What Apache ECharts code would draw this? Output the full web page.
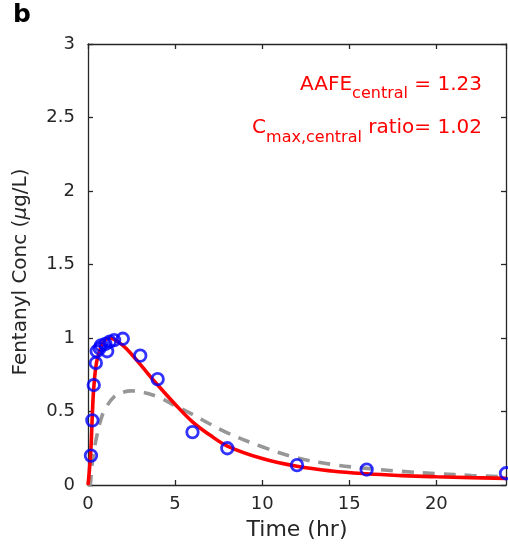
<!DOCTYPE html>
<html>
<head>
<meta charset="utf-8">
<script src="https://cdn.jsdelivr.net/npm/echarts@6/dist/echarts.min.js"></script>
<style>html,body{margin:0;padding:0;background:#fff}#c{width:508px;height:552px}</style>
</head>
<body>
<div id="c"></div>
<script>
// Observed concentrations (blue circles): [time hr, conc ug/L]
const obsTime = [0.17, 0.25, 0.33, 0.45, 0.5, 0.67, 0.75, 1.0, 1.1, 1.25, 1.5, 2, 3, 4, 6, 8, 12, 16, 24];
const obsConc = [0.20, 0.44, 0.68, 0.83, 0.91, 0.93, 0.95, 0.96, 0.91, 0.975, 0.985, 0.995, 0.88, 0.72, 0.36, 0.25, 0.135, 0.105, 0.08];
// Simulated central (red solid)
const redTime = [0, 0.08, 0.17, 0.25, 0.33, 0.5, 0.75, 1, 1.25, 1.5, 2, 2.5, 3, 4, 5, 6, 7, 8, 10, 12, 14, 16, 18, 20, 22, 24];
const redConc = [0, 0.1, 0.25, 0.48, 0.66, 0.84, 0.94, 0.99, 1.0, 0.99, 0.95, 0.89, 0.82, 0.68, 0.55, 0.43, 0.34, 0.265, 0.18, 0.127, 0.095, 0.076, 0.064, 0.056, 0.05, 0.045];
// Alternative simulation (grey dashed)
const greyTime = [0, 0.1, 0.2, 0.3, 0.5, 0.75, 1, 1.5, 2, 2.5, 3, 4, 5, 6, 7, 8, 10, 12, 14, 16, 18, 20, 22, 24];
const greyConc = [0, 0, 0.1, 0.2, 0.33, 0.45, 0.52, 0.6, 0.63, 0.64, 0.635, 0.6, 0.54, 0.48, 0.415, 0.355, 0.26, 0.185, 0.14, 0.113, 0.093, 0.077, 0.065, 0.056];
const xTicks = {min: 0, max: 24, interval: 5};
const yTicks = {min: 0, max: 3, interval: 0.5};

const zip = (a, b) => a.map((v, i) => [v, b[i]]);
const FONT = 'DejaVu Sans';
const AX = '#262626';
const chart = echarts.init(document.getElementById('c'));
const axisCommon = {
  type: 'value', splitLine: {show: false},
  axisLine: {show: true, onZero: false, lineStyle: {color: AX, width: 1.3}},
  axisTick: {show: true, inside: true, length: 5, lineStyle: {color: AX, width: 1.3}}
};
chart.setOption({
  animation: false,
  grid: {left: 88, right: 2, top: 44, bottom: 67},
  xAxis: [
    Object.assign({}, axisCommon, {position: 'bottom', min: xTicks.min, max: xTicks.max, interval: xTicks.interval,
      axisLabel: {fontFamily: FONT, fontSize: 18, color: AX, margin: 10, showMaxLabel: false},
      name: 'Time (hr)', nameLocation: 'middle', nameGap: 34,
      nameTextStyle: {fontFamily: FONT, fontSize: 22, color: AX}}),
    Object.assign({}, axisCommon, {position: 'top', min: xTicks.min, max: xTicks.max, interval: xTicks.interval,
      axisLabel: {show: false}})
  ],
  yAxis: [
    Object.assign({}, axisCommon, {position: 'left', min: yTicks.min, max: yTicks.max, interval: yTicks.interval,
      axisLabel: {fontFamily: FONT, fontSize: 18, color: AX, margin: 13}}),
    Object.assign({}, axisCommon, {position: 'right', min: yTicks.min, max: yTicks.max, interval: yTicks.interval,
      axisLabel: {show: false}})
  ],
  series: [
    {type: 'line', data: zip(greyTime, greyConc), showSymbol: false, smooth: 0.4,
      lineStyle: {color: '#979797', width: 3.6, type: [12, 9]}, z: 2},
    {type: 'line', data: zip(redTime, redConc), showSymbol: false, smooth: 0.4,
      lineStyle: {color: '#ff0000', width: 3.6}, z: 3},
    {type: 'scatter', data: zip(obsTime, obsConc), symbol: 'circle', symbolSize: 11.5,
      itemStyle: {color: 'rgba(0,0,0,0)', borderColor: '#0000ff', borderWidth: 2.8}, z: 4}
  ],
  graphic: [
    {type: 'text', left: 13, top: 3, style: {text: 'b', font: 'bold 25px "DejaVu Sans"', fill: '#000'}},
    {type: 'text', x: 21, y: 272, rotation: Math.PI / 2,
      style: {text: 'Fentanyl Conc ({i|μ}g/L)', fontFamily: FONT, fontSize: 20, fill: AX, align: 'center', verticalAlign: 'middle',
        rich: {i: {fontFamily: FONT, fontSize: 20, fontStyle: 'italic', fill: AX}}}},
    {type: 'text', right: 26, top: 75,
      style: {text: '{a|AAFE}{s|central}{a| = 1.23}', fill: '#ff0000',
        rich: {a: {fontFamily: FONT, fontSize: 20, lineHeight: 22, verticalAlign: 'top', fill: '#ff0000'},
               s: {fontFamily: FONT, fontSize: 16, lineHeight: 16, padding: [11, 0, 0, 0], verticalAlign: 'top', fill: '#ff0000'}}}},
    {type: 'text', right: 26, top: 118,
      style: {text: '{a|C}{s|max,central}{a| ratio= 1.02}', fill: '#ff0000',
        rich: {a: {fontFamily: FONT, fontSize: 20, lineHeight: 22, verticalAlign: 'top', fill: '#ff0000'},
               s: {fontFamily: FONT, fontSize: 16, lineHeight: 16, padding: [12, 0, 0, 0], verticalAlign: 'top', fill: '#ff0000'}}}}
  ]
});
</script>
</body>
</html>
